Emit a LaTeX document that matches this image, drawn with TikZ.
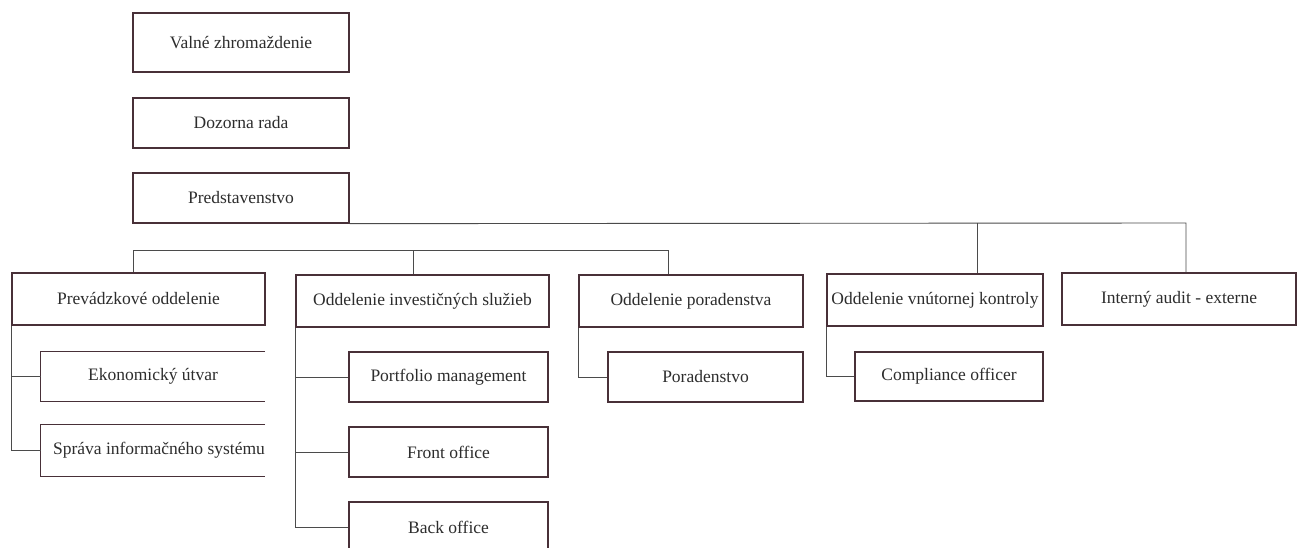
\documentclass[tikz,border=0pt]{standalone}
\usepackage{fontspec}
\setmainfont{Liberation Serif}
\definecolor{boxline}{RGB}{72,48,56}
\definecolor{conline}{RGB}{75,75,75}
\definecolor{txt}{RGB}{45,45,45}
\tikzset{
  orgbox/.style={draw=boxline, line width=1.3pt, fill=white, inner sep=0pt,
    text=txt, font=\fontsize{17.5}{20}\selectfont, align=center},
  openbox/.style={draw=none, inner sep=0pt, text=txt,
    font=\fontsize{17.5}{20}\selectfont, align=center},
  openedge/.style={draw=boxline, line width=1.3pt},
  conn/.style={draw=conline, line width=0.9pt},
}
\begin{document}
\begin{tikzpicture}[x=1pt,y=-1pt]
\useasboundingbox (0,0) rectangle (1298,548);
% top column
\node[orgbox, minimum width=216pt, minimum height=59pt] (vz) at (241,42.5) {Valné zhromaždenie};
\node[orgbox, minimum width=216pt, minimum height=50pt] (dr) at (241,123) {Dozorna rada};
\node[orgbox, minimum width=216pt, minimum height=50pt] (pr) at (241,198) {Predstavenstvo};
% first row
\node[orgbox, minimum width=253pt, minimum height=52pt] (prev) at (138.5,299) {Prevádzkové oddelenie};
\node[orgbox, minimum width=253pt, minimum height=52pt] (inv) at (422.5,301) {Oddelenie investičných služieb};
\node[orgbox, minimum width=224pt, minimum height=52pt] (por) at (691,301) {Oddelenie poradenstva};
\node[orgbox, minimum width=216pt, minimum height=52pt] (vnk) at (935,300) {Oddelenie vnútornej kontroly};
\node[orgbox, minimum width=234pt, minimum height=52pt] (ia) at (1179,299) {Interný audit - externe};
% second level
\node[openbox, minimum width=224pt, minimum height=49pt] (eko) at (153,376.5) {Ekonomický útvar};
\node[openbox, minimum width=224pt, minimum height=51pt] (spr) at (153,450.5) {};
\node[text=txt, font=\fontsize{17.5}{20}\selectfont, inner sep=0pt] (sprt) at (spr.center) [xshift=6pt] {Správa informačného systému};
\node[orgbox, minimum width=199pt, minimum height=50pt] (pm) at (448.5,377) {Portfolio management};
\node[orgbox, minimum width=199pt, minimum height=50pt] (fo) at (448.5,452) {Front office};
\node[orgbox, minimum width=199pt, minimum height=50pt] (bo) at (448.5,527) {Back office};
\node[orgbox, minimum width=195pt, minimum height=50pt] (pd) at (705.5,377) {Poradenstvo};
\node[orgbox, minimum width=188pt, minimum height=49pt] (co) at (949,376.5) {Compliance officer};
% open boxes edges
\draw[openedge] (eko.north east) -- (eko.north west) -- (eko.south west) -- (eko.south east);
\draw[openedge] (spr.north east) -- (spr.north west) -- (spr.south west) -- (spr.south east);
% junction coordinates
\coordinate (h1) at (1186,223);
\coordinate (h2) at (977,223);
\coordinate (t1) at (133,250);
\coordinate (t2) at (413,250);
\coordinate (t3) at (668,250);
% connectors
\draw[conn] (pr.south east) -- (h1) -- (h1 |- ia.north);
\draw[conn] (h2) -- (h2 |- vnk.north);
\draw[conn] (t1 |- prev.north) -- (t1) -- (t3) -- (t3 |- por.north);
\draw[conn] (t2) -- (t2 |- inv.north);
\draw[conn] (prev.south west) |- (spr.west);
\draw[conn] (prev.south west |- eko.west) -- (eko.west);
\draw[conn] (inv.south west) |- (bo.west);
\draw[conn] (inv.south west |- pm.west) -- (pm.west);
\draw[conn] (inv.south west |- fo.west) -- (fo.west);
\draw[conn] (por.south west) |- (pd.west);
\draw[conn] (vnk.south west) |- (co.west);
\end{tikzpicture}
\end{document}
